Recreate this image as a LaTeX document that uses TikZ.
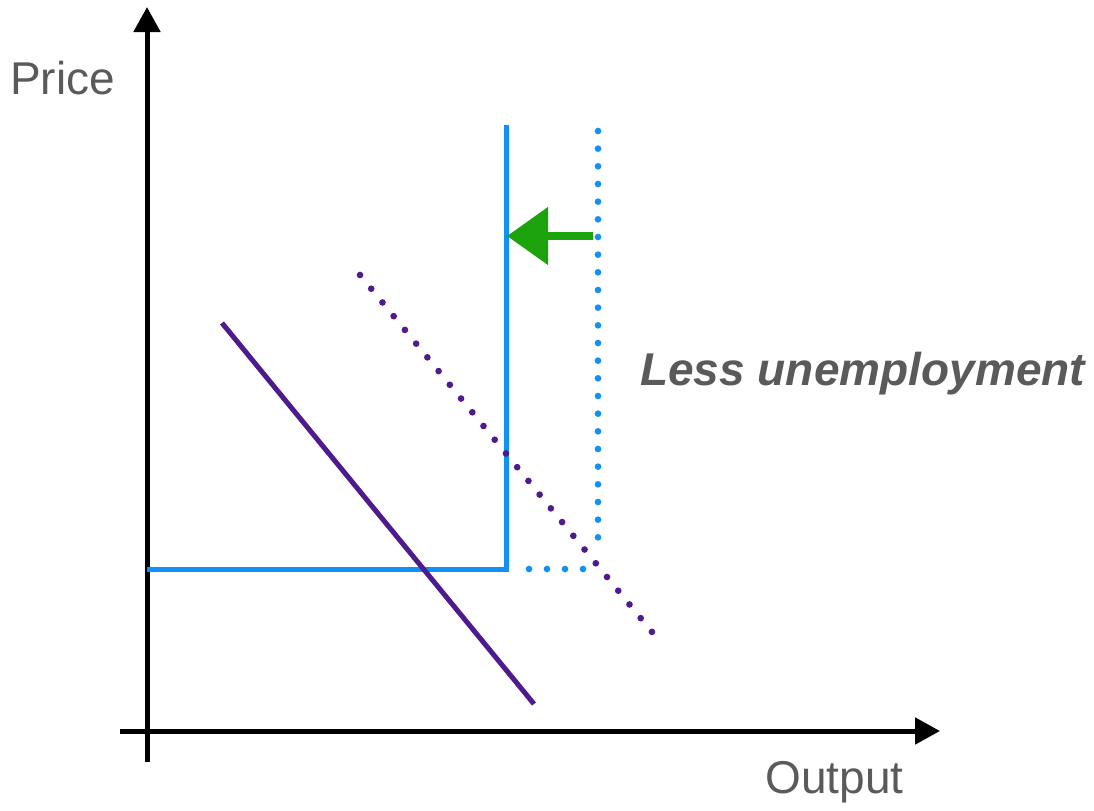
\documentclass[tikz,border=0pt]{standalone}
\usepackage{fontspec}
\setmainfont{Liberation Sans}
\usetikzlibrary{arrows.meta}

\definecolor{axisgray}{HTML}{5A5A5A}
\definecolor{asblue}{HTML}{1390F5}
\definecolor{adpurple}{HTML}{4D1B8E}
\definecolor{shiftgreen}{HTML}{1CA30C}

\tikzset{
  axis/.style={line width=3.75pt, -{Triangle[length=18.75pt, width=19.5pt]}},
  label/.style={text=axisgray, font=\fontsize{34.5}{40}\selectfont, inner sep=0pt},
  dotline/.style={line width=5pt, line cap=round, dash pattern=on 0pt off #1},
  dotline/.default=13.5pt,
}

\begin{document}
\begin{tikzpicture}[x=0.75pt,y=-0.75pt]
\useasboundingbox (0,0) rectangle (1094,810);

% axes
\draw[axis] (147,762) -- (147,7);
\draw[axis] (120,731) -- (940,731);
\node[label, anchor=base west] (price) at (10,94) {Price};
\node[label, anchor=base west] (output) at (765,793) {Output};

% supply, old and new
\draw[asblue, line width=3.75pt] (147,569) -- (506,569) -- (506,125);
\draw[asblue, dotline] (529,569) -- (585,569);
\draw[asblue, dotline=13.25pt] (598,131) -- (598,555);

% demand, old and new
\draw[adpurple, line width=3.75pt] (222,323) -- (534,704);
\draw[adpurple, dotline=13.3pt] (360,275) -- (652,632);

% shift
\draw[shiftgreen, line width=6pt, -{Triangle[length=30.75pt, width=42pt]}] (593,236) -- (507,236);
\node[label, font=\fontsize{34.5}{40}\selectfont\bfseries\itshape, anchor=base west] (less) at (640,385) {Less unemployment};
\end{tikzpicture}
\end{document}
